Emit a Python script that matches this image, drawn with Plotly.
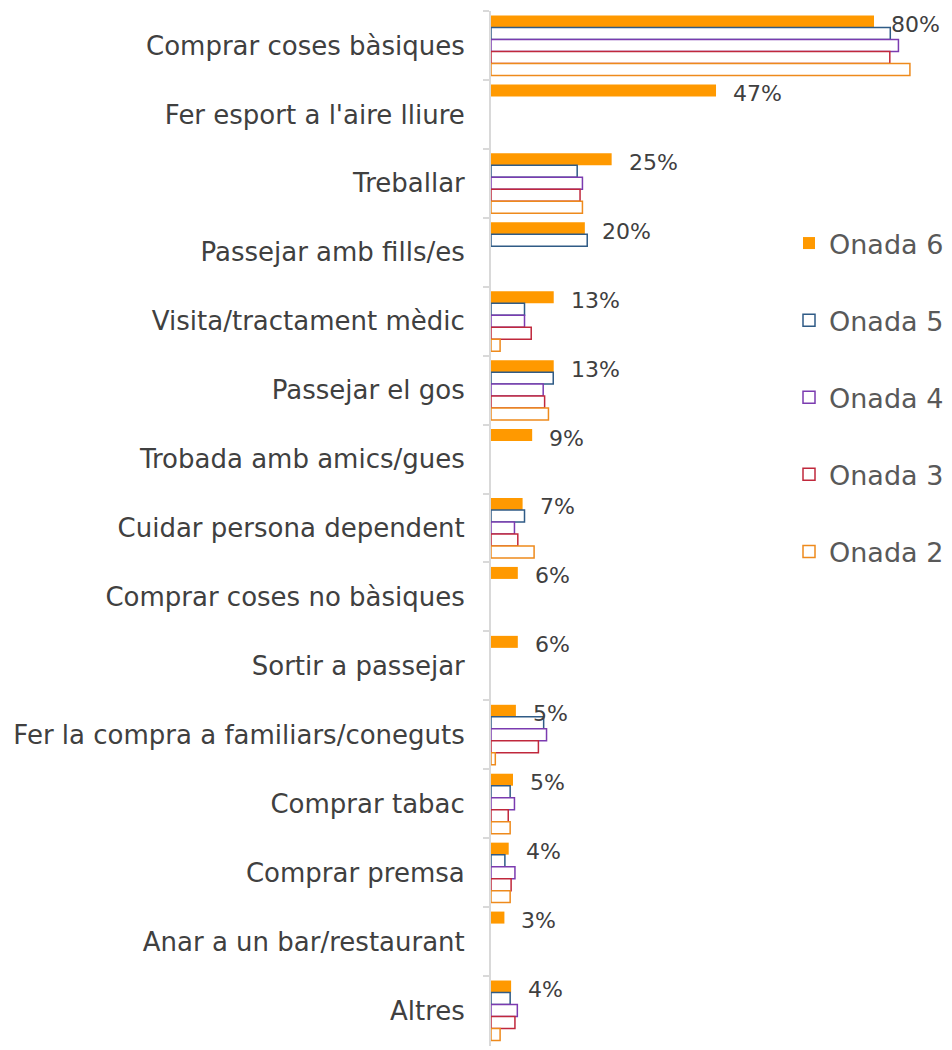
import plotly.graph_objects as go

categorias = ["Comprar coses bàsiques", "Fer esport a l'aire lliure", "Treballar",
              "Passejar amb fills/es", "Visita/tractament mèdic", "Passejar el gos",
              "Trobada amb amics/gues", "Cuidar persona dependent",
              "Comprar coses no bàsiques", "Sortir a passejar",
              "Fer la compra a familiars/coneguts", "Comprar tabac", "Comprar premsa",
              "Anar a un bar/restaurant", "Altres"]

onada6 = [80.0, 47.0, 25.2, 19.6, 13.1, 13.1, 8.6, 6.6, 5.6, 5.6, 5.2, 4.6, 3.7, 2.8, 4.2]
onada5 = [83.4, None, 18.0, 20.1, 7.0, 13.0, None, 7.0, None, None, 11.0, 4.0, 2.9, None, 4.0]
onada4 = [85.1, None, 19.1, None, 7.0, 10.9, None, 4.9, None, None, 11.6, 4.9, 5.0, None, 5.5]
onada3 = [83.3, None, 18.6, None, 8.4, 11.2, None, 5.6, None, None, 9.9, 3.6, 4.2, None, 5.0]
onada2 = [87.5, None, 19.1, None, 1.9, 12.0, None, 9.0, None, None, 0.9, 4.0, 4.0, None, 1.9]

font = "DejaVu Sans, sans-serif"

fig = go.Figure()
fig.add_trace(go.Bar(y=categorias, x=onada6, orientation="h", name="Onada 6",
                     marker=dict(color="#ff9900", line=dict(width=0)),
                     legendgroup="6"))
series = [("Onada 5", onada5, "#2f5b86"), ("Onada 4", onada4, "#7b3bb0"),
          ("Onada 3", onada3, "#c0283c"), ("Onada 2", onada2, "#ee8a1c")]
for nom, vals, col in series:
    fig.add_trace(go.Bar(y=categorias, x=vals, orientation="h", name=nom,
                         marker=dict(color="white", line=dict(color=col, width=1.5)),
                         legendgroup=nom))

# etiquetes només per a Onada 6
for cat, v in zip(categorias, onada6):
    fig.add_annotation(x=v, y=cat, text=f"{v:.0f}%", showarrow=False,
                       xanchor="left", yanchor="middle", xshift=15, yshift=21,
                       font=dict(family=font, size=22, color="#404040"))

fig.update_layout(
    width=952, height=1050,
    margin=dict(l=491, r=10, t=11, b=4, autoexpand=False),
    paper_bgcolor="white", plot_bgcolor="white",
    barmode="group", bargap=0.13, bargroupgap=0,
    font=dict(family=font, color="#404040"),
    showlegend=True,
    legend=dict(xref="container", yref="container", x=789 / 952, y=1 - 219 / 1050,
                xanchor="left", yanchor="top", traceorder="grouped",
                tracegroupgap=39, font=dict(family=font, size=27, color="#595959"),
                bgcolor="rgba(0,0,0,0)"),
)
fig.update_xaxes(range=[0, 94.2], visible=False, fixedrange=True)
fig.update_yaxes(autorange="reversed", showline=True, linecolor="#d9d9d9", linewidth=2,
                 ticks="outside", ticklen=6, tickcolor="#d9d9d9", tickwidth=2,
                 tickson="boundaries", showgrid=False, ticklabelstandoff=19,
                 tickfont=dict(family=font, size=26, color="#404040"))

# sense marge al body perquè la figura ocupi tota la finestra
fig.write_html("out.html", config={"displayModeBar": False},
               post_script="document.body.style.margin='0';document.body.style.overflow='hidden';")
